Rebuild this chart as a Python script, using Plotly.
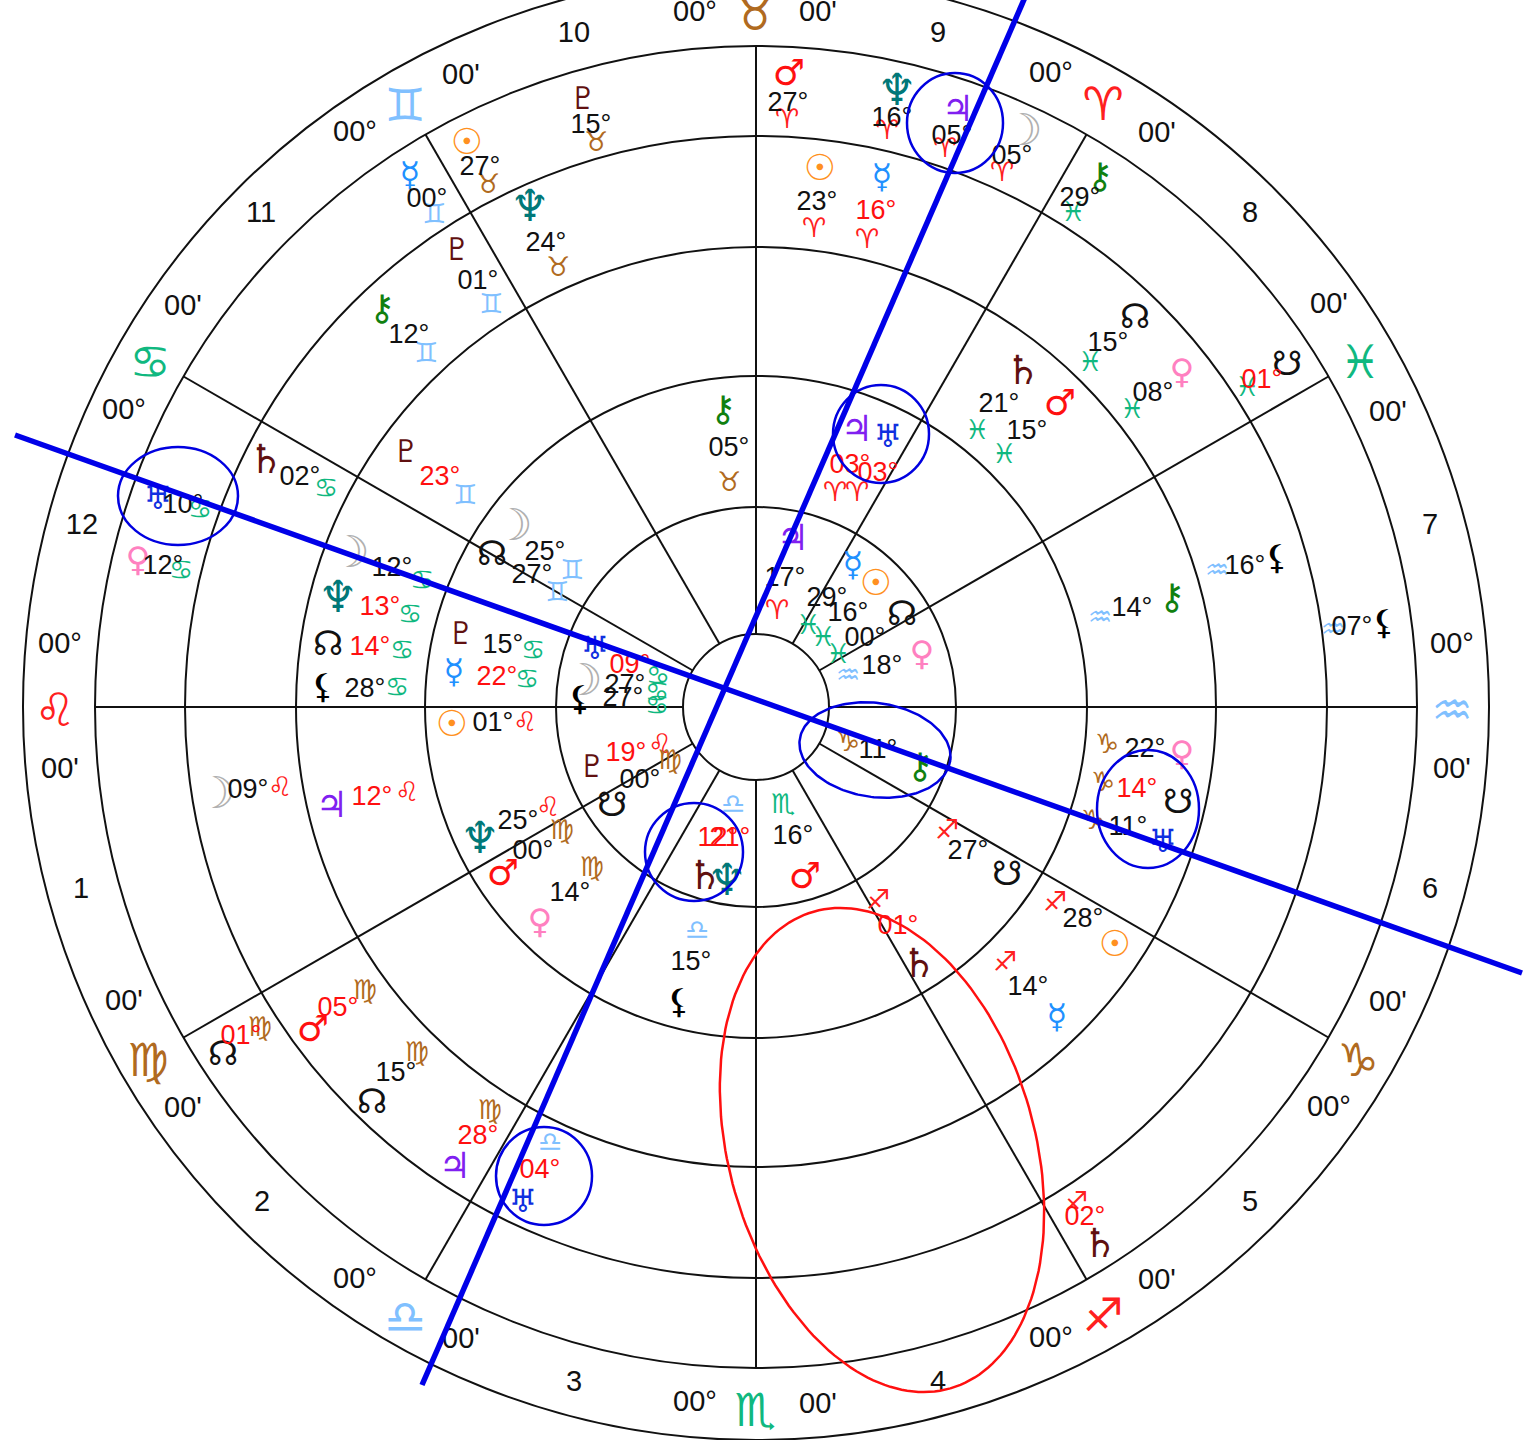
import numpy as np
import plotly.graph_objects as go

CENTER = (756, 707)
ring_radii = [733, 661, 571, 460, 331, 200, 73]
spoke_angles = [0, 30, 60, 90, 120, 150, 180, 210, 240, 270, 300, 330]
spoke_inner, spoke_outer = 73, 661

zodiac = [("♉",755,12),("♈",1103,102),("♓",1360,360),("♒",1452,708),("♑",1358,1058),("♐",1103,1313),
          ("♏",755,1408),("♎",405,1315),("♍",148,1058),("♌",55,708),("♋",150,360),("♊",405,103)]

rim_labels = [("00°",695,10),("00'",818,10),("00°",1051,71),("00'",1157,131),("00'",1329,302),("00'",1388,410),
              ("00°",1452,642),("00'",1452,767),("00'",1388,1000),("00°",1329,1105),("00'",1157,1278),("00°",1051,1336),
              ("00'",818,1402),("00°",695,1400),("00'",461,1337),("00°",355,1277),("00'",183,1106),("00'",124,999),
              ("00'",60,767),("00°",60,642),("00°",124,408),("00'",183,304),("00°",355,130),("00'",461,73)]

houses = [("10",574,31),("9",938,31),("8",1250,211),("7",1430,523),("6",1430,887),("5",1250,1200),
          ("4",938,1380),("3",574,1380),("2",262,1200),("1",81,887),("12",82,523),("11",261,211)]

planets = [("♂",789,72),("♆",897,90),("♃",958,108),("☽",1023,130),("⚷",1100,175),("☊",1135,315),("♀",1182,370),
           ("<b>☋</b>",1287,362),("⚸",1277,556),("<b>⚸</b>",1384,621),("♀",1182,752),("☋",1178,800),("♅",1163,840),
           ("☋",1007,872),("☉",1115,943),("☿",1057,1015),("♄",919,963),("<b>♄</b>",1100,1243),("⚸",679,1000),
           ("♂",805,875),("♄",705,875),("♆",727,880),("♃",793,537),("☿",853,563),("☉",876,582),("☊",902,612),
           ("♀",922,652),("⚷",920,765),("♅",595,647),("☽",583,680),("⚸",580,697),("♇",592,765),("☋",612,803),
           ("♆",480,838),("♂",503,872),("♀",540,920),("♅",888,435),("♃",857,428),("⚷",723,408),("♄",1023,370),
           ("♂",1060,402),("⚷",1172,596),("☉",820,167),("☿",882,175),("♇",583,97),("☉",467,141),("☿",410,173),
           ("♆",530,206),("♇",457,248),("⚷",382,307),("☽",513,525),("☊",492,552),("♄",266,459),("♇",406,450),
           ("♅",158,497),("♀",138,558),("☽",350,552),("♆",338,597),("☊",328,642),("⚸",323,685),("♇",461,632),
           ("☿",454,670),("☉",452,723),("☽",216,793),("♃",332,804),("♂",313,1028),("<b>☊</b>",223,1052),
           ("☊",372,1100),("♃",455,1165),("♅",523,1200)]

black_degrees = [("27°",788,100),("16°",892,115),("05°",952,133),("05°",1012,153),("29°",1080,195),("15°",1108,340),
                 ("08°",1153,390),("16°",1245,563),("07°",1352,624),("22°",1145,746),("11°",1128,824),("27°",968,848),
                 ("28°",1083,916),("14°",1028,984),("15°",691,959),("16°",793,833),("17°",785,575),("29°",827,595),
                 ("16°",848,610),("00°",865,635),("18°",882,663),("11°",878,747),("27°",625,682),("27°",623,695),
                 ("00°",640,777),("25°",518,818),("00°",533,848),("14°",570,890),("05°",729,445),("21°",999,401),
                 ("15°",1027,428),("14°",1132,605),("23°",817,199),("15°",591,122),("27°",480,164),("00°",427,196),
                 ("24°",546,240),("01°",478,278),("12°",409,332),("25°",545,549),("27°",532,572),("02°",300,474),
                 ("10°",183,502),("12°",163,563),("12°",392,565),("28°",365,686),("15°",503,642),("01°",493,720),
                 ("09°",248,787),("15°",396,1070)]

red_degrees = [("01°",1262,377),("14°",1137,786),("01°",898,923),("02°",1085,1214),("12°",718,835),("21°",730,835),
               ("09°",630,662),("19°",626,750),("03°",878,470),("03°",850,462),("16°",876,208),("23°",440,474),
               ("13°",380,604),("14°",370,644),("22°",497,674),("12°",372,794),("05°",338,1005),("01°",241,1033),
               ("28°",478,1133),("04°",540,1167)]

small_signs = [("♈",787,117),("♈",887,128),("♈",945,146),("♈",1002,170),("♓",1073,210),("♓",1090,360),("♓",1132,407),
               ("♓",1247,385),("♒",1217,568),("♒",1333,627),("♑",1107,742),("♑",1103,780),("♑",1093,818),("♐",947,828),
               ("♐",1055,900),("♐",1005,960),("♐",878,898),("♐",1076,1200),("♎",697,928),("♏",783,802),("♎",733,802),
               ("♈",777,608),("♓",808,623),("♓",823,635),("♓",838,652),("♒",848,673),("♑",848,740),("♋",658,673),
               ("♋",657,690),("♋",657,703),("♌",660,742),("♍",670,758),("♌",548,805),("♍",562,828),("♍",592,865),
               ("♈",857,490),("♈",835,490),("♉",729,480),("♓",977,428),("♓",1004,452),("♒",1100,615),("♈",814,226),
               ("♈",867,237),("♉",596,140),("♉",488,182),("♊",434,212),("♉",558,265),("♊",491,302),("♊",426,351),
               ("♊",572,568),("♊",557,590),("♋",326,486),("♊",465,493),("♋",200,507),("♋",181,568),("♋",422,578),
               ("♋",410,612),("♋",402,648),("♋",397,685),("♋",533,648),("♋",527,677),("♌",525,720),("♌",280,785),
               ("♌",407,790),("♍",365,988),("♍",260,1025),("♍",417,1050),("♍",490,1108),("♎",550,1140)]

sign_color = {"♈":"#ff2020","♌":"#ff2020","♐":"#ff2020","♉":"#b06a20","♍":"#b06a20","♑":"#b06a20",
              "♊":"#80c0ff","♎":"#80c0ff","♒":"#80c0ff","♋":"#10b880","♏":"#10b880","♓":"#10b880"}
planet_color = {"♂":"#ff1010","♆":"#007878","♃":"#8020f0","☽":"#b0b0b0","⚷":"#108010","☋":"#111111",
                "☊":"#111111","♀":"#ff80c0","⚸":"#000000","♅":"#1030e0","☉":"#ff9020","☿":"#2090ff",
                "♄":"#601010","♇":"#601010"}
planet_size = {"♂":36,"♆":44,"♃":36,"☽":44,"⚷":36,"☋":34,"☊":34,"♀":34,"⚸":34,"♅":32,"☉":36,"☿":34,"♄":40,"♇":31}

blue_lines_x = [[15, 1522], [1026, 422]]
blue_lines_y = [[435, 973], [-5, 1385]]
blue_ellipses = [(955,123,48,50),(881,434,48,49),(178,496,60,49),(1148,809,51,59),(694,852,49,49),(544,1176,48,49)]
tilted_ellipses = [(875,750,76,47,8,"#0000e0"),(882,1150,248,153,74,"#ff1010")]

fig = go.Figure()
for r in ring_radii:
    fig.add_shape(type="circle", x0=CENTER[0]-r, x1=CENTER[0]+r, y0=CENTER[1]-r, y1=CENTER[1]+r,
                  line=dict(color="#111111", width=2), layer="below")
sx, sy = [], []
for a in spoke_angles:
    c, s = np.cos(np.radians(a)), np.sin(np.radians(a))
    sx += [CENTER[0]+spoke_inner*c, CENTER[0]+spoke_outer*c, None]
    sy += [CENTER[1]-spoke_inner*s, CENTER[1]-spoke_outer*s, None]
fig.add_trace(go.Scatter(x=sx, y=sy, mode="lines", line=dict(color="#111111", width=2), hoverinfo="skip"))

GLYPH_FONT = "DejaVu Sans"
TEXT_FONT = "Liberation Sans"
TEXT_NUDGE = 4  # plotly centres text slightly above its anchor

def text_trace(rows, color, size, family, nudge=TEXT_NUDGE):
    t, x, y = zip(*rows)
    fig.add_trace(go.Scatter(x=list(x), y=[v + nudge for v in y], text=list(t), mode="text",
                             textposition="middle center",
                             textfont=dict(color=color, size=size, family=family), hoverinfo="skip"))

def bare(g):
    return g.replace("<b>", "").replace("</b>", "")

text_trace(zodiac, [sign_color[r[0]] for r in zodiac], 46, GLYPH_FONT, nudge=6)
text_trace(rim_labels, "#111111", 29, TEXT_FONT)
text_trace(houses, "#111111", 29, TEXT_FONT)
text_trace(planets, [planet_color[bare(r[0])] for r in planets], [planet_size[bare(r[0])] for r in planets], GLYPH_FONT)
text_trace(small_signs, [sign_color[r[0]] for r in small_signs], 27, GLYPH_FONT)
text_trace(black_degrees, "#111111", 27, TEXT_FONT)
text_trace(red_degrees, "#ff1010", 27, TEXT_FONT)

for lx, ly in zip(blue_lines_x, blue_lines_y):
    fig.add_trace(go.Scatter(x=lx, y=ly, mode="lines", line=dict(color="#0000e8", width=5.5), hoverinfo="skip"))
for cx, cy, rx, ry in blue_ellipses:
    fig.add_shape(type="circle", x0=cx-rx, x1=cx+rx, y0=cy-ry, y1=cy+ry, line=dict(color="#0000e0", width=2.5))
t = np.linspace(0, 2*np.pi, 181)
for cx, cy, a, b, tilt, col in tilted_ellipses:
    c, s = np.cos(np.radians(tilt)), np.sin(np.radians(tilt))
    ex, ey = a*np.cos(t), b*np.sin(t)
    fig.add_trace(go.Scatter(x=cx+ex*c-ey*s, y=cy+ex*s+ey*c, mode="lines", line=dict(color=col, width=2.5), hoverinfo="skip"))

fig.update_layout(width=1525, height=1440, margin=dict(l=0, r=0, t=0, b=0), showlegend=False,
                  paper_bgcolor="white", plot_bgcolor="white",
                  xaxis=dict(range=[0, 1525], visible=False, fixedrange=True),
                  yaxis=dict(range=[1440, 0], visible=False, fixedrange=True))
fig.write_html("out.html", config=dict(displayModeBar=False),
               post_script="document.body.style.margin='0';document.documentElement.style.overflow='hidden';")
